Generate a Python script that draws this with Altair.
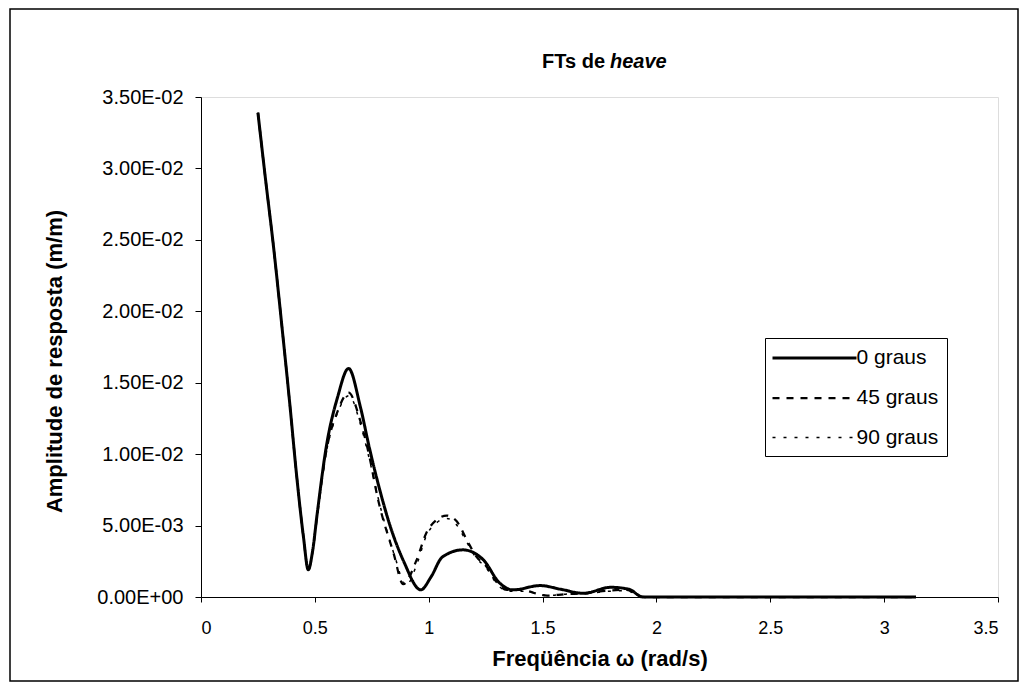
import json
import altair as alt
import pandas as pd

# ---- data ----
x_0 = [0.25, 0.28, 0.32, 0.355, 0.39, 0.42, 0.45, 0.471, 0.49, 0.51, 0.55, 0.60, 0.648,
       0.70, 0.74, 0.785, 0.83, 0.89, 0.965, 1.01, 1.06, 1.15, 1.24, 1.31, 1.37, 1.49,
       1.58, 1.68, 1.80, 1.88, 1.94, 2.0, 2.5, 3.0, 3.14]
y_0 = [0.0339, 0.0297, 0.0243, 0.0190, 0.0135, 0.0085, 0.0042, 0.0019, 0.0032, 0.0058, 0.0105,
       0.0140, 0.0160, 0.0133, 0.0104, 0.0075, 0.0050, 0.0025, 0.0005, 0.0014, 0.0028, 0.0033,
       0.0026, 0.0010, 0.0005, 0.0008, 0.00054, 0.00026, 0.00068, 0.00054, 0.0, 0.0, 0.0, 0.0, 0.0]

x_45 = [0.25, 0.28, 0.32, 0.355, 0.39, 0.42, 0.45, 0.471, 0.49, 0.51, 0.55, 0.60, 0.648,
        0.70, 0.74, 0.775, 0.845, 0.888, 0.947, 0.99, 1.035, 1.079, 1.123, 1.167, 1.211,
        1.25, 1.30, 1.343, 1.40, 1.52, 1.60, 1.69, 1.78, 1.87, 1.92, 1.95, 2.0, 2.5, 3.0, 3.14]
y_45 = [0.0339, 0.0297, 0.0243, 0.0190, 0.0135, 0.0085, 0.0042, 0.0019, 0.0032, 0.0057, 0.0102,
        0.0130, 0.0143, 0.0123, 0.0098, 0.0070, 0.0031, 0.0009, 0.0026, 0.0045, 0.0054, 0.0057,
        0.0053, 0.0040, 0.0028, 0.0022, 0.0010, 0.0005, 0.0005, 0.0001, 0.0002, 0.00026, 0.00044,
        0.0005, 0.0001, 0.0, 0.0, 0.0, 0.0, 0.0]

x_90 = [0.25, 0.28, 0.32, 0.355, 0.39, 0.42, 0.45, 0.471, 0.49, 0.51, 0.55, 0.60, 0.65,
        0.70, 0.74, 0.78, 0.85, 0.90, 0.95, 0.99, 1.035, 1.08, 1.12, 1.165, 1.21,
        1.25, 1.30, 1.35, 1.42, 1.52, 1.60, 1.70, 1.79, 1.87, 1.92, 1.95, 2.0, 2.5, 3.0, 3.14]
y_90 = [0.0339, 0.0297, 0.0243, 0.0190, 0.0135, 0.0085, 0.0042, 0.0019, 0.0032, 0.0057, 0.0101,
        0.0129, 0.0141, 0.0121, 0.0096, 0.0068, 0.0029, 0.0008, 0.0024, 0.0043, 0.0052, 0.0055,
        0.0051, 0.0039, 0.0027, 0.0021, 0.0009, 0.0004, 0.0004, 0.0001, 0.0002, 0.00025, 0.0004,
        0.00045, 0.0001, 0.0, 0.0, 0.0, 0.0, 0.0]

series_names = ["0 graus", "45 graus", "90 graus"]
x_ticks = [0, 0.5, 1, 1.5, 2, 2.5, 3, 3.5]
y_ticks = [0, 0.005, 0.01, 0.015, 0.02, 0.025, 0.03, 0.035]
y_tick_labels = ["0.00E+00", "5.00E-03", "1.00E-02", "1.50E-02",
                 "2.00E-02", "2.50E-02", "3.00E-02", "3.50E-02"]

rows = []
for name, xs, ys in zip(series_names, [x_0, x_45, x_90], [y_0, y_45, y_90]):
    for i, (a, b) in enumerate(zip(xs, ys)):
        rows.append({"serie": name, "w": a, "amp": b, "i": i})
df = pd.DataFrame(rows)

FONT = "Liberation Sans"
W, H = 797, 500

lines = alt.Chart(df).mark_line(interpolate="monotone", color="black").encode(
    x=alt.X("w:Q", scale=alt.Scale(domain=[0, 3.5], nice=False),
            axis=alt.Axis(values=x_ticks, title="Freqüência ω (rad/s)", format="~g",
                          grid=False, domainColor="black", tickColor="black",
                          tickSize=5, labelPadding=17, titlePadding=11,
                          labelFontSize=18, titleFontSize=22, titleFontWeight="bold",
                          labelColor="black", titleColor="black", labelFont=FONT, titleFont=FONT)),
    y=alt.Y("amp:Q", scale=alt.Scale(domain=[0, 0.035], nice=False),
            axis=alt.Axis(values=y_ticks, title="Amplitude de resposta (m/m)",
                          labelExpr=json.dumps(y_tick_labels) + "[round(datum.value/0.005)]",
                          grid=False, domainColor="black", tickColor="black",
                          tickSize=6, labelPadding=12, titlePadding=30, titleY=264,
                          labelFontSize=20, titleFontSize=22, titleFontWeight="bold",
                          labelColor="black", titleColor="black", labelFont=FONT, titleFont=FONT)),
    order="i:Q",
    strokeDash=alt.StrokeDash("serie:N", scale=alt.Scale(domain=series_names,
                              range=[[1, 0], [7, 7], [3, 8]]),
                              legend=alt.Legend(title=None, orient="none", legendX=564, legendY=241,
                                                strokeColor="black", fillColor="white",
                                                padding=8, symbolType="M-4,0H4", symbolSize=441,
                                                symbolOffset=29.5,
                                                symbolStrokeColor="black", labelFontSize=21,
                                                labelFont=FONT, labelColor="black",
                                                rowPadding=18, labelOffset=30)),
    strokeWidth=alt.StrokeWidth("serie:N", scale=alt.Scale(domain=series_names,
                                range=[3, 1.5, 1.5]), legend=None),
)

title_df = pd.DataFrame({"t": ["FTs de", "heave"]})
t1 = alt.Chart(title_df).transform_filter("datum.t == 'FTs de'").mark_text(
    align="right", baseline="alphabetic", font=FONT, fontSize=20, fontWeight="bold", color="black"
).encode(text="t:N", x=alt.value(404), y=alt.value(-29))
t2 = alt.Chart(title_df).transform_filter("datum.t == 'heave'").mark_text(
    align="left", baseline="alphabetic", font=FONT, fontSize=20, fontWeight="bold",
    fontStyle="italic", color="black"
).encode(text="t:N", x=alt.value(409), y=alt.value(-29))

frame = alt.Chart(title_df).transform_filter("datum.t == 'heave'").mark_rect(
    fill=None, stroke="black", strokeWidth=1.5
).encode(x=alt.value(-191), x2=alt.value(817), y=alt.value(-88), y2=alt.value(584))

chart = alt.layer(frame, lines, t1, t2).properties(
    width=W, height=H,
    autosize=alt.AutoSizeParams(type="none"),
    padding={"left": 193, "top": 89, "right": 22, "bottom": 87},
).configure_view(stroke="black", strokeWidth=1).configure(background="white")

chart.save("out.html", embed_options={"renderer": "svg", "actions": False})
